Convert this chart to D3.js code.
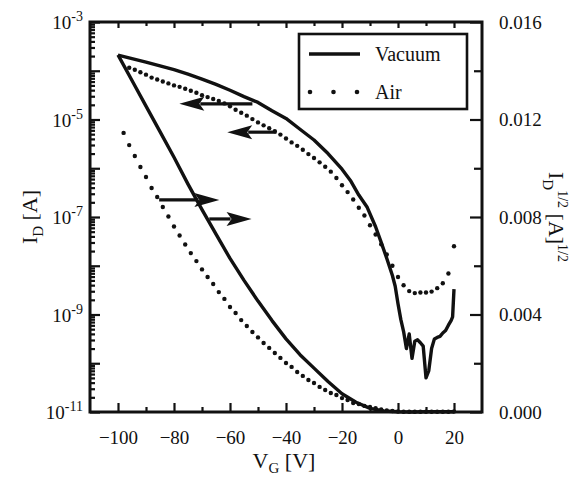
<!DOCTYPE html>
<html><head><meta charset="utf-8">
<script src="https://cdn.jsdelivr.net/npm/d3@7"></script>
<style>body{margin:0;background:#fff}</style>
</head><body>
<svg id="chart" width="573" height="479"></svg>
<script>
// ---------- data ----------
const xTickValues = [-100, -80, -60, -40, -20, 0, 20];
const xMinorTickValues = [-90, -70, -50, -30, -10, 10];
const logDecades = [1e-11, 1e-10, 1e-9, 1e-8, 1e-7, 1e-6, 1e-5, 1e-4, 1e-3];
const logLabelExponents = [-3, -5, -7, -9, -11];
const rightTickLabels = ["0.000", "0.004", "0.008", "0.012", "0.016"];
const rightTickValues = [0, 0.004, 0.008, 0.012, 0.016];
const rightMinorTickValues = [0.002, 0.006, 0.010, 0.014];

// Vacuum, log-scale I_D (left axis)
const vacuumLogV = [-100,-95,-90,-85,-80,-75,-70,-65,-60,-55,-50,-45,-40,-35,-30,-25,-20,-17,-14,-11,-8,-6,-4,-2,-1,0,1,2,3,4,5,6,7,8,9,10,11,12,13,14,15,16,17,18,19,19.5,20];
const vacuumLogI = [2.09e-4,1.78e-4,1.51e-4,1.26e-4,1.05e-4,8.51e-5,6.76e-5,5.25e-5,3.98e-5,2.95e-5,2.24e-5,1.51e-5,1.05e-5,6.31e-6,3.80e-6,2.00e-6,9.55e-7,5.62e-7,2.82e-7,1.58e-7,6.31e-8,3.02e-8,1.41e-8,6.31e-9,3.80e-9,1.66e-9,7.94e-10,4.47e-10,2.00e-10,3.98e-10,1.26e-10,2.82e-10,3.02e-10,2.63e-10,2.24e-10,5.01e-11,7.08e-11,2.00e-10,3.16e-10,3.39e-10,3.55e-10,4.17e-10,4.68e-10,6.03e-10,7.59e-10,8.91e-10,3.31e-9];

// Vacuum, sqrt(I_D) (right axis)
const vacuumSqrtV = [-100,-95,-90,-85,-80,-75,-70,-65,-60,-55,-50,-45,-40,-35,-30,-25,-20,-15,-10,-5,0,5,10,15,20];
const vacuumSqrtI = [0.01465,0.01360,0.01255,0.01150,0.01045,0.00935,0.00830,0.00730,0.00630,0.00540,0.00455,0.00375,0.00300,0.00235,0.00180,0.00125,0.00075,0.00040,0.00015,0.00004,0.00001,0.00000,0.00001,0.00001,0.00001];

// Air, log-scale I_D (left axis), one dot per 2 V
const airLogV = [-96,-94,-92,-90,-88,-86,-84,-82,-80,-78,-76,-74,-72,-70,-68,-66,-64,-62,-60,-58,-56,-54,-52,-50,-48,-46,-44,-42,-40,-38,-36,-34,-32,-30,-28,-26,-24,-22,-20,-18,-16,-14,-12,-10,-8,-6,-4,-2,0,2,4,6,8,10,12,14,16,18,20];
const airLogI = [1.15e-4,1.05e-4,9.33e-5,8.32e-5,7.24e-5,6.61e-5,6.03e-5,5.50e-5,5.01e-5,4.68e-5,4.27e-5,3.89e-5,3.55e-5,3.16e-5,2.88e-5,2.63e-5,2.40e-5,2.14e-5,1.86e-5,1.58e-5,1.38e-5,1.20e-5,1.02e-5,8.71e-6,7.59e-6,6.61e-6,5.75e-6,4.90e-6,4.07e-6,3.39e-6,2.88e-6,2.40e-6,1.95e-6,1.62e-6,1.32e-6,1.07e-6,8.51e-7,6.31e-7,4.47e-7,3.24e-7,2.29e-7,1.55e-7,1.07e-7,6.76e-8,4.37e-8,2.75e-8,1.70e-8,1.00e-8,5.89e-9,3.98e-9,3.02e-9,2.75e-9,2.82e-9,2.82e-9,2.95e-9,3.47e-9,4.37e-9,6.92e-9,2.51e-8];

// Air, sqrt(I_D) (right axis), one dot per 2 V
const airSqrtV = [-98,-96,-94,-92,-90,-88,-86,-84,-82,-80,-78,-76,-74,-72,-70,-68,-66,-64,-62,-60,-58,-56,-54,-52,-50,-48,-46,-44,-42,-40,-38,-36,-34,-32,-30,-28,-26,-24,-22,-20,-18,-16,-14,-12,-10,-8,-6,-4,-2,0,2,4,6,8,10,12,14,16,18,20];
const airSqrtI = [0.01145,0.01095,0.01050,0.01005,0.00964,0.00919,0.00882,0.00841,0.00802,0.00761,0.00724,0.00687,0.00652,0.00619,0.00585,0.00554,0.00525,0.00492,0.00464,0.00431,0.00406,0.00377,0.00353,0.00328,0.00306,0.00283,0.00263,0.00242,0.00222,0.00201,0.00185,0.00164,0.00148,0.00131,0.00119,0.00103,0.00090,0.00078,0.00070,0.00057,0.00049,0.00037,0.00033,0.00025,0.00021,0.00016,0.00010,0.00006,0.00004,0.00002,0.00001,0.00001,0.00001,0.00001,0.00001,0.00001,0.00001,0.00001,0.00001,0.00002];

// Arrow annotations (data units)
const arrowStartV = [-52, -43.4, -85.3, -67.4];
const arrowEndV = [-78.1, -61, -63.8, -52.3];
const arrowValue = [2.1e-5, 5.5e-6, 0.0087, 0.00792];
const arrowAxis = ["log", "log", "lin", "lin"];

const legendLabels = ["Vacuum", "Air"];

// ---------- layout ----------
const W = 573, H = 479;
const m = {left: 90, right: 91, top: 22, bottom: 67};
const FONT = "'Liberation Serif', 'Times New Roman', serif";
const svg = d3.select("#chart");

const x = d3.scaleLinear().domain([-110, 30]).range([m.left, W - m.right]);
const yLog = d3.scaleLog().domain([1e-11, 1e-3]).range([H - m.bottom, m.top]);
const yLin = d3.scaleLinear().domain([0, 0.016]).range([H - m.bottom, m.top]);
const x0 = m.left, x1 = W - m.right, yT = m.top, yB = H - m.bottom;

// ---------- curves ----------
const lineLog = d3.line().x(d => x(d[0])).y(d => yLog(d[1]));
const lineLin = d3.line().x(d => x(d[0])).y(d => yLin(d[1]));

svg.append("path")
  .datum(vacuumLogV.map((v, i) => [v, vacuumLogI[i]]))
  .attr("d", lineLog).attr("fill", "none").attr("stroke", "#111")
  .attr("stroke-width", 3.4).attr("stroke-linejoin", "round");
svg.append("path")
  .datum(vacuumSqrtV.map((v, i) => [v, vacuumSqrtI[i]]))
  .attr("d", lineLin).attr("fill", "none").attr("stroke", "#111")
  .attr("stroke-width", 3.4).attr("stroke-linejoin", "round");

svg.append("g").selectAll("circle")
  .data(airLogV.map((v, i) => [v, airLogI[i]]))
  .join("circle").attr("cx", d => x(d[0])).attr("cy", d => yLog(d[1]))
  .attr("r", 2.2).attr("fill", "#111");
svg.append("g").selectAll("circle")
  .data(airSqrtV.map((v, i) => [v, airSqrtI[i]]))
  .join("circle").attr("cx", d => x(d[0])).attr("cy", d => yLin(d[1]))
  .attr("r", 2.2).attr("fill", "#111");

// ---------- arrows ----------
arrowStartV.forEach((v0, i) => {
  const ys = arrowAxis[i] === "log" ? yLog(arrowValue[i]) : yLin(arrowValue[i]);
  const xs = x(v0), xe = x(arrowEndV[i]);
  const dir = Math.sign(xe - xs);
  const headLen = 25, headW = 7;
  const xb = xe - dir * headLen;
  svg.append("line").attr("x1", xs).attr("y1", ys).attr("x2", xb + dir * 4).attr("y2", ys)
    .attr("stroke", "#111").attr("stroke-width", 3.2);
  svg.append("path")
    .attr("d", `M${xe},${ys} L${xb},${ys - headW} L${xb + dir * 5},${ys} L${xb},${ys + headW} Z`)
    .attr("fill", "#111");
});

// ---------- axes ----------
const axisStyle = g => {
  g.select(".domain").remove();
  g.selectAll("line").attr("stroke", "#111").attr("stroke-width", 2.2);
  g.selectAll("text").attr("font-family", FONT).attr("font-size", 19).attr("fill", "#111");
};

// bottom
svg.append("g").attr("transform", `translate(0,${yB})`)
  .call(d3.axisBottom(x).tickValues(xTickValues).tickSize(-9).tickPadding(19).tickFormat(d3.format("d")))
  .call(axisStyle);
svg.append("g").attr("transform", `translate(0,${yB})`)
  .call(d3.axisBottom(x).tickValues(xMinorTickValues).tickSize(-5).tickFormat(""))
  .call(axisStyle);
// top
svg.append("g").attr("transform", `translate(0,${yT})`)
  .call(d3.axisTop(x).tickValues(xTickValues).tickSize(-6).tickFormat(""))
  .call(axisStyle);
svg.append("g").attr("transform", `translate(0,${yT})`)
  .call(d3.axisTop(x).tickValues(xMinorTickValues).tickSize(-4).tickFormat(""))
  .call(axisStyle);

// left (log)
const minorLog = [];
logDecades.slice(0, -1).forEach(d => { for (let k = 2; k <= 9; k++) minorLog.push(d * k); });
svg.append("g").attr("transform", `translate(${x0},0)`)
  .call(d3.axisLeft(yLog).tickValues(logDecades).tickSize(-10).tickFormat(""))
  .call(axisStyle);
svg.append("g").attr("transform", `translate(${x0},0)`)
  .call(d3.axisLeft(yLog).tickValues(minorLog).tickSize(-5).tickFormat(""))
  .call(axisStyle);
const leftLab = svg.append("g").attr("font-family", FONT).attr("fill", "#111");
logLabelExponents.forEach(e => {
  const t = leftLab.append("text").attr("x", x0 - 7).attr("y", yLog(Math.pow(10, e)) + 7)
    .attr("text-anchor", "end").attr("font-size", 19);
  t.append("tspan").text("10");
  t.append("tspan").attr("font-size", 14).attr("dy", -8).text("-" + Math.abs(e));
});

// right (linear)
svg.append("g").attr("transform", `translate(${x1},0)`)
  .call(d3.axisRight(yLin).tickValues(rightTickValues).tickSize(-12).tickPadding(17)
    .tickFormat((d, i) => rightTickLabels[i]))
  .call(axisStyle);
svg.append("g").attr("transform", `translate(${x1},0)`)
  .call(d3.axisRight(yLin).tickValues(rightMinorTickValues).tickSize(-8).tickFormat(""))
  .call(axisStyle);

// frame
svg.append("rect").attr("x", x0).attr("y", yT).attr("width", x1 - x0).attr("height", yB - yT)
  .attr("fill", "none").attr("stroke", "#111").attr("stroke-width", 3);

// ---------- axis titles ----------
const xt = svg.append("text").attr("x", (x0 + x1) / 2 - 2).attr("y", 468)
  .attr("text-anchor", "middle").attr("font-family", FONT).attr("font-size", 22).attr("fill", "#111");
xt.append("tspan").text("V");
xt.append("tspan").attr("font-size", 15).attr("dy", 5).text("G");
xt.append("tspan").attr("dy", -5).text(" [V]");

const ylt = svg.append("text").attr("transform", `translate(37,${(yT + yB) / 2}) rotate(-90)`)
  .attr("text-anchor", "middle").attr("font-family", FONT).attr("font-size", 22).attr("fill", "#111");
ylt.append("tspan").text("I");
ylt.append("tspan").attr("font-size", 15).attr("dy", 6).text("D");
ylt.append("tspan").attr("dy", -6).text(" [A]");

const yrt = svg.append("text").attr("transform", `translate(549,${(yT + yB) / 2}) rotate(90)`)
  .attr("text-anchor", "middle").attr("font-family", FONT).attr("font-size", 22).attr("fill", "#111");
yrt.append("tspan").text("I");
yrt.append("tspan").attr("font-size", 15).attr("dy", 6).text("D");
yrt.append("tspan").attr("font-size", 14).attr("dy", -15).text("1/2");
yrt.append("tspan").attr("dy", 9).text(" [A]");
yrt.append("tspan").attr("font-size", 14).attr("dy", -9).text("1/2");

// ---------- legend ----------
const lg = svg.append("g");
lg.append("rect").attr("x", 299).attr("y", 34).attr("width", 168).attr("height", 75)
  .attr("fill", "#fff").attr("stroke", "#111").attr("stroke-width", 2.6);
lg.append("line").attr("x1", 309).attr("x2", 360).attr("y1", 54).attr("y2", 54)
  .attr("stroke", "#111").attr("stroke-width", 3.4);
lg.selectAll(".ld").data([0, 1, 2]).join("circle")
  .attr("cx", d => 310 + d * 23.5).attr("cy", 92).attr("r", 2.3).attr("fill", "#111");
lg.selectAll("text").data(legendLabels).join("text")
  .attr("x", 375).attr("y", (d, i) => i === 0 ? 61 : 99)
  .attr("font-family", FONT).attr("font-size", 20).attr("fill", "#111").text(d => d);
</script>
</body></html>
